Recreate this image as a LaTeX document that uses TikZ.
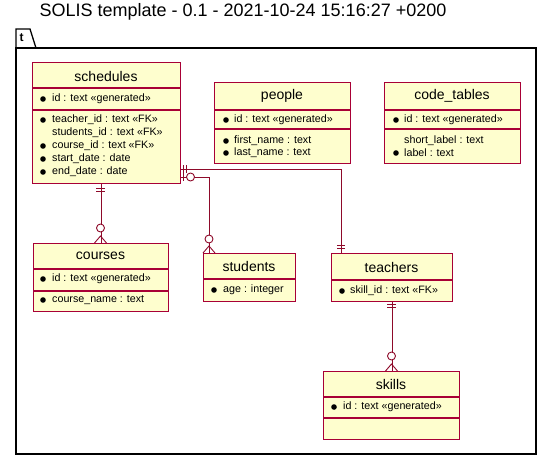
\documentclass[tikz,border=0pt]{standalone}
\usepackage{fontspec}
\setmainfont{Liberation Sans}
\definecolor{erborder}{HTML}{A80036}
\definecolor{erfill}{HTML}{FEFECE}
\definecolor{erline}{HTML}{8E0A2A}
\tikzset{
  entity/.style={rectangle, draw=erborder, fill=erfill, line width=1.4pt, anchor=north west, inner sep=0pt},
  etitle/.style={font=\fontsize{14}{16}\selectfont, inner sep=0pt},
  field/.style={font=\fontsize{10.7}{12}\selectfont, anchor=west, inner sep=0pt},
  sep/.style={draw=erborder, line width=1.1pt},
  rel/.style={draw=erline, line width=0.9pt},
  ring/.style={draw=erline, line width=0.9pt, fill=white},
  pkgframe/.style={draw=black, line width=1.3pt}
}
\begin{document}
\begin{tikzpicture}[x=1pt,y=1pt]
  \useasboundingbox (0,0) rectangle (553,-461);

  % Titre et cadre du paquet
  \node[font=\fontsize{18}{20}\selectfont] (diagtitle) at (243,-12) {SOLIS template - 0.1 - 2021-10-24 15:16:27 +0200};
  \draw[pkgframe] (16,-48) rectangle (536,-454);
  \draw[pkgframe] (16,-48) -- (16,-29) -- (30,-29) -- (36,-48);
  \node[font=\fontsize{12}{14}\selectfont\bfseries] (pkgname) at (21.5,-38) {t};

  % schedules
  \node[entity, minimum width=148pt, minimum height=121pt] (schedules) at (32,-62) {};
  \node[etitle] (schedulesTitle) at (106,-76) {schedules};
  \draw[sep] (32,-88) -- (180,-88);
  \draw[sep] (32,-110) -- (180,-110);
  \fill (43,-99) circle[radius=2.8pt];
  \node[field] (schedulesId) at (52,-99) {id : text «generated»};
  \fill (43,-120) circle[radius=2.8pt];
  \node[field] (schedulesTeacher) at (52,-120) {teacher\_id : text «FK»};
  \node[field] (schedulesStudents) at (52,-133) {students\_id : text «FK»};
  \fill (43,-146) circle[radius=2.8pt];
  \node[field] (schedulesCourse) at (52,-146) {course\_id : text «FK»};
  \fill (43,-159) circle[radius=2.8pt];
  \node[field] (schedulesStart) at (52,-159) {start\_date : date};
  \fill (43,-172) circle[radius=2.8pt];
  \node[field] (schedulesEnd) at (52,-172) {end\_date : date};

  % people
  \node[entity, minimum width=136pt, minimum height=81pt] (people) at (214,-82) {};
  \node[etitle] (peopleTitle) at (282,-96) {people};
  \draw[sep] (214,-110) -- (350,-110);
  \draw[sep] (214,-129) -- (350,-129);
  \fill (226,-120) circle[radius=2.8pt];
  \node[field] (peopleId) at (234,-120) {id : text «generated»};
  \fill (226,-141) circle[radius=2.8pt];
  \node[field] (peopleFirst) at (234,-141) {first\_name : text};
  \fill (226,-153) circle[radius=2.8pt];
  \node[field] (peopleLast) at (234,-153) {last\_name : text};

  % code_tables
  \node[entity, minimum width=136pt, minimum height=81pt] (codetables) at (384,-82) {};
  \node[etitle] (codetablesTitle) at (452,-96) {code\_tables};
  \draw[sep] (384,-110) -- (520,-110);
  \draw[sep] (384,-129) -- (520,-129);
  \fill (396,-120) circle[radius=2.8pt];
  \node[field] (codetablesId) at (404,-120) {id : text «generated»};
  \node[field] (codetablesShort) at (404,-141) {short\_label : text};
  \fill (396,-153) circle[radius=2.8pt];
  \node[field] (codetablesLabel) at (404,-153) {label : text};

  % courses
  \node[entity, minimum width=135pt, minimum height=68pt] (courses) at (33,-243) {};
  \node[etitle] (coursesTitle) at (100.5,-256) {courses};
  \draw[sep] (33,-269) -- (168,-269);
  \draw[sep] (33,-291) -- (168,-291);
  \fill (43,-279) circle[radius=2.8pt];
  \node[field] (coursesId) at (52,-279) {id : text «generated»};
  \fill (43,-300) circle[radius=2.8pt];
  \node[field] (coursesName) at (52,-300) {course\_name : text};

  % students
  \node[entity, minimum width=92pt, minimum height=48pt] (students) at (203,-253) {};
  \node[etitle] (studentsTitle) at (249,-266) {students};
  \draw[sep] (203,-279) -- (295,-279);
  \fill (214,-290) circle[radius=2.8pt];
  \node[field] (studentsAge) at (223,-290) {age : integer};

  % teachers
  \node[entity, minimum width=121pt, minimum height=48pt] (teachers) at (331,-253) {};
  \node[etitle] (teachersTitle) at (391.5,-267) {teachers};
  \draw[sep] (331,-280) -- (452,-280);
  \fill (342,-291) circle[radius=2.8pt];
  \node[field] (teachersSkill) at (350,-291) {skill\_id : text «FK»};

  % skills
  \node[entity, minimum width=136pt, minimum height=68pt] (skills) at (323,-371) {};
  \node[etitle] (skillsTitle) at (391,-384) {skills};
  \draw[sep] (323,-397) -- (459,-397);
  \draw[sep] (323,-418) -- (459,-418);
  \fill (334,-407) circle[radius=2.8pt];
  \node[field] (skillsId) at (343,-407) {id : text «generated»};

  % schedules -- courses
  \draw[rel] (schedules.south -| courses.north) -- (courses.north);
  \draw[rel] (96,-188) -- (105,-188) (96,-191) -- (105,-191);
  \draw[rel] (94.5,-243) -- (100.5,-236) -- (106.5,-243);
  \draw[ring] (100.5,-228) circle[radius=4pt];

  % schedules -- teachers
  \coordinate (teachersBend) at (341,-169);
  \draw[rel] (schedules.east |- teachersBend) -- (teachersBend) -- (teachersBend |- teachers.north);
  \draw[rel] (183.5,-165) -- (183.5,-173) (186.5,-165) -- (186.5,-173);
  \draw[rel] (337,-245) -- (345,-245) (337,-248.5) -- (345,-248.5);

  % schedules -- students
  \coordinate (studentsBend) at (209,-177);
  \draw[rel] (schedules.east |- studentsBend) -- (studentsBend) -- (studentsBend |- students.north);
  \draw[rel] (183.5,-173) -- (183.5,-181);
  \draw[ring] (190.5,-177) circle[radius=4pt];
  \draw[rel] (203,-253) -- (209,-246) -- (215,-253);
  \draw[ring] (209,-239) circle[radius=4pt];

  % teachers -- skills
  \draw[rel] (teachers.south) -- (teachers.south |- skills.north);
  \draw[rel] (387,-304) -- (396,-304) (387,-307) -- (396,-307);
  \draw[rel] (385.5,-371) -- (391.5,-364) -- (397.5,-371);
  \draw[ring] (391.5,-356) circle[radius=4pt];
\end{tikzpicture}
\end{document}
